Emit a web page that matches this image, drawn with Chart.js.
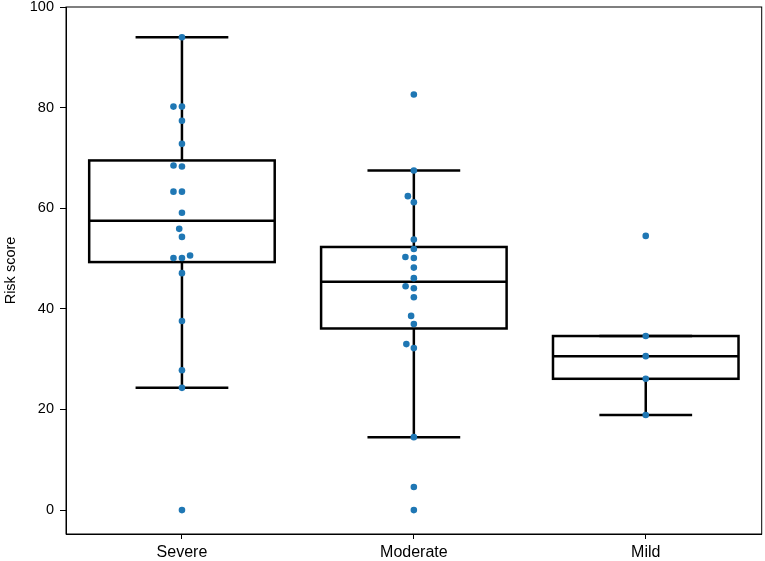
<!DOCTYPE html>
<html>
<head>
<meta charset="utf-8">
<script src="https://cdn.jsdelivr.net/npm/chart.js@4.4.1/dist/chart.umd.min.js"></script>
<style>
  html, body { margin: 0; padding: 0; background: #fff; }
  #wrap { width: 765px; height: 561px; }
</style>
</head>
<body>
<div id="wrap"><canvas id="riskChart"></canvas></div>
<script>
// values
const categories = ["Severe", "Moderate", "Mild"];
const severeScores = [94, 80.2, 80.2, 77.4, 72.8, 68.5, 68.3, 63.3, 63.3, 59.1, 55.9, 54.3, 50.6, 50.1, 50.1, 47.1, 37.6, 27.8, 24.3, 0];
const moderateScores = [82.6, 67.5, 62.4, 61.2, 53.8, 51.9, 50.3, 50.1, 48.2, 46.1, 44.5, 44.1, 42.3, 38.6, 37.0, 33.0, 32.2, 14.5, 4.6, 0];
const mildScores = [54.5, 34.6, 30.6, 26.1, 18.9];

const boxQ1 = [49.3, 36.1, 26.1];
const boxMedian = [57.5, 45.4, 30.6];
const boxQ3 = [69.5, 52.3, 34.6];
const whiskerLow = [24.3, 14.5, 18.9];
const whiskerHigh = [94, 67.5, 34.6];

const yTicks = [0, 20, 40, 60, 80, 100];

const dotColor = "#1f77b4";
const lineColor = "#000";
const fontFamily = "'Liberation Sans', Arial, sans-serif";

const points = [];
[severeScores, moderateScores, mildScores].forEach((arr, i) => {
  arr.forEach(v => points.push({ x: i, y: v }));
});

// boxes and whiskers drawn under the dots
const boxPlugin = {
  id: "boxes",
  beforeDatasetsDraw(chart) {
    const { ctx, scales: { x, y } } = chart;
    ctx.save();
    ctx.strokeStyle = lineColor;
    ctx.lineWidth = 2.5;
    for (let i = 0; i < categories.length; i++) {
      const cx = x.getPixelForValue(i);
      const half = x.getPixelForValue(i + 0.4) - cx;
      const cap = half / 2;
      const yq1 = y.getPixelForValue(boxQ1[i]);
      const yq3 = y.getPixelForValue(boxQ3[i]);
      const ymed = y.getPixelForValue(boxMedian[i]);
      const ylo = y.getPixelForValue(whiskerLow[i]);
      const yhi = y.getPixelForValue(whiskerHigh[i]);
      ctx.beginPath();
      ctx.moveTo(cx, yq1); ctx.lineTo(cx, ylo);
      ctx.moveTo(cx, yq3); ctx.lineTo(cx, yhi);
      ctx.moveTo(cx - cap, ylo); ctx.lineTo(cx + cap, ylo);
      ctx.moveTo(cx - cap, yhi); ctx.lineTo(cx + cap, yhi);
      ctx.stroke();
      ctx.strokeRect(cx - half, yq3, half * 2, yq1 - yq3);
      ctx.beginPath();
      ctx.moveTo(cx - half, ymed); ctx.lineTo(cx + half, ymed);
      ctx.stroke();
    }
    ctx.restore();
  },
  afterDraw(chart) {
    // frame on top and right
    const { ctx, chartArea: a } = chart;
    ctx.save();
    ctx.strokeStyle = lineColor;
    ctx.lineWidth = 1;
    ctx.strokeRect(a.left, a.top, a.right - a.left, a.bottom - a.top);
    ctx.restore();
  }
};

// simple beeswarm: shift overlapping dots sideways (left first)
const swarmPlugin = {
  id: "swarm",
  afterDatasetsUpdate(chart) {
    const meta = chart.getDatasetMeta(0);
    const d = 8.5;
    const groups = {};
    meta.data.forEach((el, idx) => {
      const cat = points[idx].x;
      (groups[cat] = groups[cat] || []).push(el);
    });
    Object.values(groups).forEach(els => {
      const cx = els[0].x;
      els.sort((a, b) => b.y - a.y);
      const placed = [];
      els.forEach(el => {
        const cands = [0];
        placed.forEach(p => {
          const dy = Math.abs(p.y - el.y);
          if (dy < d) {
            const dx = Math.sqrt(d * d - dy * dy);
            cands.push(p.off - dx, p.off + dx);
          }
        });
        const order = cands.map((c, k) => ({ c, k }))
          .sort((a, b) => Math.abs(a.c) - Math.abs(b.c) || a.k - b.k);
        let off = 0;
        for (const o of order) {
          const ok = placed.every(p => {
            const dx = p.off - o.c, dy = p.y - el.y;
            return dx * dx + dy * dy >= d * d - 0.01;
          });
          if (ok) { off = o.c; break; }
        }
        placed.push({ off, y: el.y });
        el.x = cx + off;
      });
    });
  }
};

new Chart(document.getElementById("riskChart"), {
  type: "scatter",
  data: {
    datasets: [{
      data: points,
      backgroundColor: dotColor,
      borderWidth: 0,
      pointRadius: 3.3,
      pointHoverRadius: 3.3
    }]
  },
  options: {
    responsive: true,
    maintainAspectRatio: false,
    animation: false,
    layout: { padding: { top: 7, right: 3, left: 0, bottom: 0 } },
    plugins: {
      legend: { display: false },
      tooltip: { enabled: false }
    },
    scales: {
      x: {
        type: "linear",
        min: -0.5,
        max: 2.5,
        afterBuildTicks: s => { s.ticks = categories.map((c, i) => ({ value: i })); },
        afterFit: s => { s.height = 27; s.paddingLeft = 0; s.paddingRight = 0; },
        ticks: {
          callback: v => categories[v],
          color: "#000",
          font: { family: fontFamily, size: 16 },
          padding: 4,
          maxRotation: 0
        },
        grid: { drawOnChartArea: false, drawTicks: true, tickLength: 5, color: lineColor },
        border: { display: true, color: lineColor, width: 1 }
      },
      y: {
        min: -4.75,
        max: 100,
        afterBuildTicks: s => { s.ticks = yTicks.map(v => ({ value: v })); },
        afterFit: s => { s.width = 66; s.paddingTop = 0; s.paddingBottom = 0; },
        title: {
          display: true,
          text: "Risk score",
          color: "#000",
          font: { family: fontFamily, size: 14.5 },
          padding: { top: 2, bottom: 0 }
        },
        ticks: {
          color: "#000",
          font: { family: fontFamily, size: 14.5 },
          padding: 6
        },
        grid: { drawOnChartArea: false, drawTicks: true, tickLength: 6, color: lineColor },
        border: { display: true, color: lineColor, width: 1 }
      }
    }
  },
  plugins: [boxPlugin, swarmPlugin]
});
</script>
</body>
</html>
